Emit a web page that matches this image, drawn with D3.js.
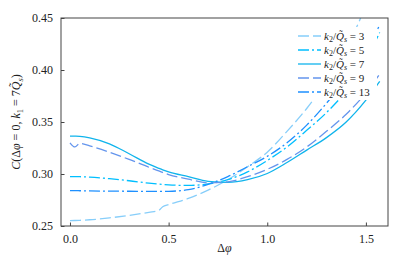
<!DOCTYPE html>
<html>
<head>
<meta charset="utf-8">
<script src="https://cdn.jsdelivr.net/npm/d3@7"></script>
<style>
  body { margin: 0; background: #fff; }
  text { font-family: "Liberation Serif", "DejaVu Serif", serif; fill: #222; }
</style>
</head>
<body>
<svg id="chart" width="407" height="271"></svg>
<script>
// values
var dphi = [0, 0.025, 0.05, 0.1, 0.2, 0.3, 0.4, 0.45, 0.47, 0.5, 0.6, 0.7, 0.8, 0.9, 1.0, 1.1, 1.2, 1.3, 1.4, 1.5, 1.57];
var c3  = [0.2552,0.2553,0.2555,0.2560,0.2578,0.2602,0.2632,0.2650,0.2685,0.2705,0.2765,0.2845,0.2945,0.3070,0.3210,0.3410,0.3630,0.3890,0.4200,0.4620,0.4950];
var c5  = [0.2975,0.2975,0.2974,0.2970,0.2955,0.2935,0.2912,0.2903,0.2900,0.2896,0.2890,0.2905,0.2945,0.3020,0.3130,0.3260,0.3420,0.3590,0.3800,0.4100,0.4360];
var c7  = [0.3365,0.3364,0.3362,0.3348,0.3290,0.3195,0.3095,0.3055,0.3040,0.3020,0.2975,0.2930,0.2920,0.2945,0.3005,0.3110,0.3230,0.3350,0.3500,0.3710,0.3890];
var c9  = [0.3300,0.3260,0.3295,0.3270,0.3210,0.3140,0.3065,0.3030,0.3015,0.2995,0.2950,0.2915,0.2925,0.2975,0.3045,0.3140,0.3260,0.3410,0.3575,0.3780,0.3960];
var c13 = [0.2840,0.2840,0.2839,0.2837,0.2835,0.2834,0.2832,0.2832,0.2832,0.2833,0.2850,0.2900,0.2975,0.3070,0.3170,0.3300,0.3470,0.3680,0.3920,0.4200,0.4430];

var ratios = ["3", "5", "7", "9", "13"];
var xTicks = [0, 0.5, 1.0, 1.5];
var yTicks = [0.25, 0.30, 0.35, 0.40, 0.45];

var series = [c3, c5, c7, c9, c13];
var colors = ["#87cefa", "#00bfff", "#10b4ec", "#6495ed", "#1e90ff"];
var dashes = ["11,4", "11,3,2,3", null, "11,4", "11,3,2,3"];

var svg = d3.select("#chart");
var x = d3.scaleLinear().domain([-0.0455, 1.612]).range([61, 388]);
var y = d3.scaleLinear().domain([0.25, 0.45]).range([226, 18]);

svg.append("defs").append("clipPath").attr("id", "plotclip")
    .append("rect")
        .attr("x", 61).attr("y", 18)
        .attr("width", 327).attr("height", 208);

// curves
var line = d3.line()
    .x(function(d, i) { return x(dphi[i]); })
    .y(function(d) { return y(d); })
    .curve(d3.curveMonotoneX);

svg.append("g")
    .attr("clip-path", "url(#plotclip)")
  .selectAll("path")
  .data(series)
  .enter()
  .append("path")
    .attr("d", line)
    .attr("fill", "none")
    .attr("stroke", function(d, i) { return colors[i]; })
    .attr("stroke-width", 1.3)
    .attr("stroke-dasharray", function(d, i) { return dashes[i]; });

// axes: ticks point inward
var xAxis = svg.append("g")
    .attr("transform", "translate(0,226)")
    .call(d3.axisBottom(x).tickValues(xTicks).tickSize(-3.5).tickPadding(8).tickFormat(d3.format(".1f")));
var yAxis = svg.append("g")
    .attr("transform", "translate(61,0)")
    .call(d3.axisLeft(y).tickValues(yTicks).tickSize(-3.5).tickPadding(8).tickFormat(d3.format(".2f")));

[xAxis, yAxis].forEach(function(a) {
    a.select(".domain").remove();
    a.selectAll("line").attr("stroke", "#444");
    a.selectAll("text").style("font-family", "'Liberation Serif', serif").style("font-size", "12px").attr("fill", "#222");
});

// frame
svg.append("rect")
    .attr("x", 61).attr("y", 18)
    .attr("width", 327).attr("height", 208)
    .attr("fill", "none")
    .attr("stroke", "#444")
    .attr("stroke-width", 1);

// legend (white box without an edge)
var legend = svg.append("g");
legend.append("rect")
    .attr("x", 294).attr("y", 27)
    .attr("width", 83).attr("height", 73)
    .attr("fill", "#fff");

var rows = legend.selectAll("g.row")
    .data(ratios)
    .enter()
    .append("g")
        .attr("class", "row")
        .attr("transform", function(d, i) { return "translate(0," + (36 + i * 14) + ")"; });

rows.append("line")
    .attr("x1", 298).attr("x2", 321)
    .attr("y1", 0).attr("y2", 0)
    .attr("stroke", function(d, i) { return colors[i]; })
    .attr("stroke-width", 1.3)
    .attr("stroke-dasharray", function(d, i) { return dashes[i]; });

var lt = rows.append("text")
    .attr("x", 324)
    .attr("y", 3.5)
    .style("font-size", "11px");
lt.append("tspan").style("font-style", "italic").text("k");
lt.append("tspan").attr("dy", 2.5).style("font-size", "8px").text("2");
lt.append("tspan").attr("dy", -2.5).text("/");
lt.append("tspan").style("font-style", "italic").text("Q\u0303");
lt.append("tspan").attr("dy", 2.5).style("font-size", "8px").style("font-style", "italic").text("s");
lt.append("tspan").attr("dy", -2.5).text(function(d) { return " = " + d; });

// axis labels
svg.append("text")
    .attr("x", 224.5)
    .attr("y", 252)
    .style("text-anchor", "middle")
    .style("font-size", "12px")
    .html('\u0394<tspan font-style="italic">\u03c6</tspan>');

var yl = svg.append("text")
    .attr("transform", "translate(20,122) rotate(-90)")
    .style("text-anchor", "middle")
    .style("font-size", "12px");
yl.append("tspan").style("font-style", "italic").text("C");
yl.append("tspan").text("(\u0394");
yl.append("tspan").style("font-style", "italic").text("\u03c6");
yl.append("tspan").text(" = 0, ");
yl.append("tspan").style("font-style", "italic").text("k");
yl.append("tspan").attr("dy", 3).style("font-size", "8.5px").text("1");
yl.append("tspan").attr("dy", -3).text(" = 7");
yl.append("tspan").style("font-style", "italic").text("Q\u0303");
yl.append("tspan").attr("dy", 3).style("font-size", "8.5px").style("font-style", "italic").text("s");
yl.append("tspan").attr("dy", -3).text(")");
</script>
</body>
</html>
